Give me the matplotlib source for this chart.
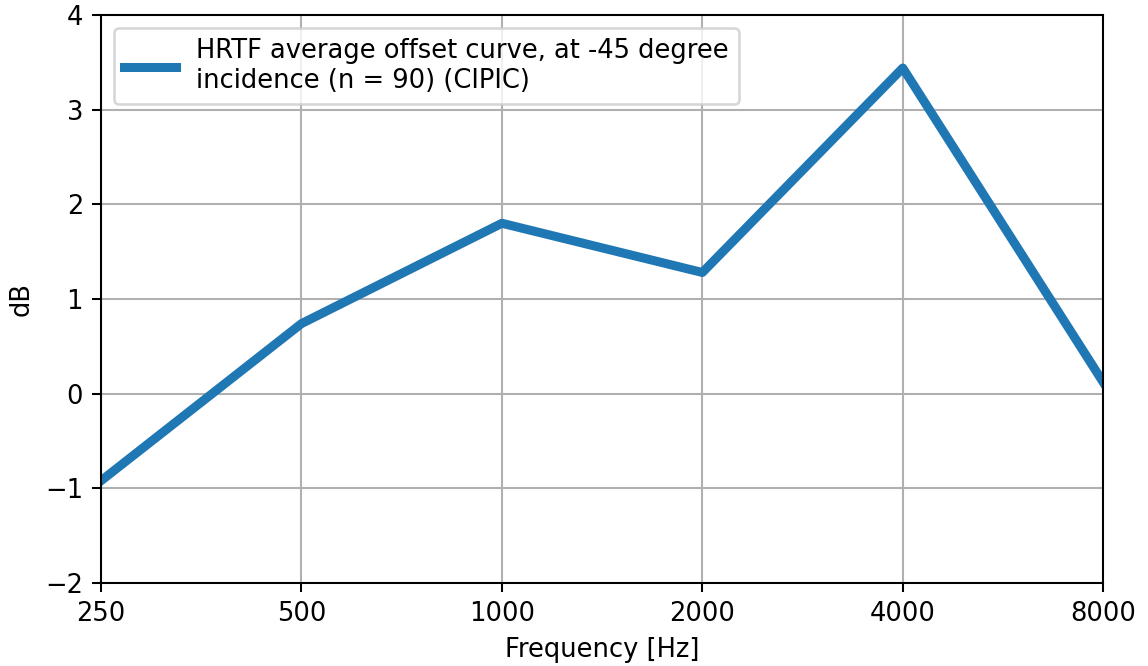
import numpy as np
import matplotlib
matplotlib.use("Agg")
from matplotlib import pyplot as plt

# data
freqs = [250, 500, 1000, 2000, 4000, 8000]
offset_db = [-0.92, 0.74, 1.80, 1.28, 3.44, 0.12]
tick_labels = ['250', '500', '1000', '2000', '4000', '8000']

dpi = 185
fig = plt.figure(figsize=(1148/dpi, 666/dpi), dpi=dpi)
ax = fig.add_subplot(111)
fig.subplots_adjust(left=0.088, right=0.961, top=0.9775, bottom=0.1246)

ax.plot(freqs, offset_db, color='#1f77b4', linewidth=3.5,
        label='HRTF average offset curve, at -45 degree\nincidence (n = 90) (CIPIC)')
ax.set_xscale('log', base=2)
ax.set_xticks(freqs)
ax.set_xticklabels(tick_labels)
ax.minorticks_off()
ax.set_xlim(250, 8000)
ax.set_ylim(-2, 4)
ax.grid(True)
ax.set_xlabel('Frequency [Hz]')
ax.set_ylabel('dB')
ax.legend(loc='upper left')

fig.savefig('out.png', dpi=dpi)
